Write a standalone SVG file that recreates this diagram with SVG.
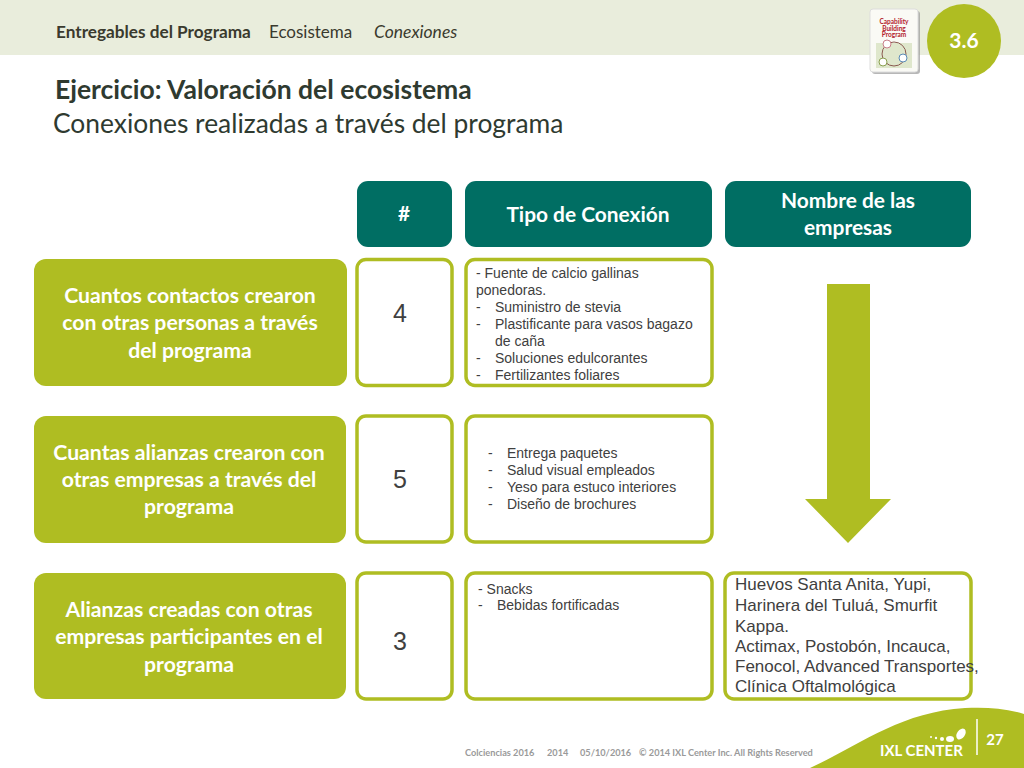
<svg xmlns="http://www.w3.org/2000/svg" width="1024" height="768" viewBox="0 0 1024 768">
<style>
.o{font-family:"Lato","Open Sans",sans-serif}
.l{font-family:"Liberation Sans",Arial,sans-serif;fill:#404040}
.hd{font-size:20.900px;font-weight:700;fill:#fff;text-anchor:middle}
.g{font-size:21.200px;font-weight:700;fill:#fff;text-anchor:middle}
.s{font-size:14px}
.n{font-size:25px;text-anchor:middle}
.box{fill:#fff;stroke:#afbd22;stroke-width:3.5}
.lime{fill:#afbd22}
.teal{fill:#006e63}
.f{font-size:9.200px;font-weight:700;fill:#9a9a9a}
</style>
<rect width="1024" height="768" fill="#fff"/>
<g id="header">
<rect width="1024" height="55" fill="#e9eddc"/>
<text class="o" x="56" y="38" font-size="17.200" font-weight="700" fill="#3a3a2e">Entregables del Programa</text>
<text class="o" x="269" y="38" font-size="17" fill="#3a3a2e">Ecosistema</text>
<text class="o" x="374" y="38" font-size="17.500" font-style="italic" fill="#3a3a2e">Conexiones</text>
</g>
<g id="badge">
<rect x="872" y="11" width="48" height="63" rx="3" fill="#999" opacity=".7"/>
<rect x="870" y="9" width="48" height="63" rx="3" fill="#fafaf5" stroke="#ddd"/>
<rect x="876" y="43" width="36" height="25" fill="#dfe7cc"/>
<text class="o" x="894" y="24" font-size="6.500" font-weight="700" fill="#b3202c" text-anchor="middle">Capability</text>
<text class="o" x="894" y="30.500" font-size="6.500" font-weight="700" fill="#b3202c" text-anchor="middle">Building</text>
<text class="o" x="894" y="37" font-size="6.500" font-weight="700" fill="#b3202c" text-anchor="middle">Program</text>
<circle cx="894" cy="54" r="12" fill="none" stroke="#8a5a50" stroke-width="1"/>
<circle cx="887" cy="44" r="4" fill="#fff" stroke="#c9808a"/>
<circle cx="903" cy="58" r="4" fill="#fff" stroke="#5b8bb5"/>
<circle cx="883" cy="62" r="4" fill="#fff" stroke="#8aa050"/>
<circle cx="964" cy="41" r="37" class="lime"/>
<text class="o" x="964" y="48" font-size="21" font-weight="700" fill="#fff" text-anchor="middle">3.6</text>
</g>
<g id="title">
<text class="o" x="55" y="99" font-size="26.500" font-weight="700" fill="#2f3a30">Ejercicio: Valoración del ecosistema</text>
<text class="o" x="53" y="133" font-size="26.400" fill="#2f3a30">Conexiones realizadas a través del programa</text>
</g>
<g id="col-num"><rect x="357" y="181" width="95" height="66" rx="11" class="teal"/><text class="o hd" x="404" y="221">#</text></g>
<g id="col-tipo"><rect x="465" y="181" width="247" height="66" rx="11" class="teal"/><text class="o hd" x="588" y="222">Tipo de Conexión</text></g>
<g id="col-nombre"><rect x="725" y="181" width="246" height="66" rx="11" class="teal"/><text class="o hd" x="848" y="208">Nombre de las</text><text class="o hd" x="848" y="235">empresas</text></g>
<g id="q1"><rect x="34" y="259" width="313" height="127" rx="12" class="lime"/>
<text class="o g" x="190" y="303">Cuantos contactos crearon</text><text class="o g" x="190" y="330">con otras personas a través</text><text class="o g" x="190" y="358">del programa</text></g>
<g id="q2"><rect x="34" y="416" width="312" height="127" rx="12" class="lime"/>
<text class="o g" x="189" y="460">Cuantas alianzas crearon con</text><text class="o g" x="189" y="487">otras empresas a través del</text><text class="o g" x="189" y="514">programa</text></g>
<g id="q3"><rect x="34" y="573" width="312" height="126" rx="12" class="lime"/>
<text class="o g" x="189" y="617">Alianzas creadas con otras</text><text class="o g" x="189" y="644">empresas participantes en el</text><text class="o g" x="189" y="672">programa</text></g>
<g id="n1"><rect x="357" y="259.500" width="95" height="126" rx="9" class="box"/><text class="l n" x="400" y="322">4</text></g>
<g id="n2"><rect x="357" y="416" width="95" height="126" rx="9" class="box"/><text class="l n" x="400" y="488">5</text></g>
<g id="n3"><rect x="357" y="573" width="95" height="126" rx="9" class="box"/><text class="l n" x="400" y="650">3</text></g>
<g id="t1"><rect x="466" y="259.500" width="246" height="126" rx="9" class="box"/>
<text class="l s" x="476" y="278">- Fuente de calcio gallinas</text>
<text class="l s" x="476" y="295">ponedoras.</text>
<text class="l s" x="476" y="312">-</text><text class="l s" x="495" y="312">Suministro de stevia</text>
<text class="l s" x="476" y="329">-</text><text class="l s" x="495" y="329">Plastificante para vasos bagazo</text>
<text class="l s" x="495" y="346">de caña</text>
<text class="l s" x="476" y="363">-</text><text class="l s" x="495" y="363">Soluciones edulcorantes</text>
<text class="l s" x="476" y="380">-</text><text class="l s" x="495" y="380">Fertilizantes foliares</text></g>
<g id="t2"><rect x="466" y="416" width="246" height="126" rx="9" class="box"/>
<text class="l s" x="488" y="458">-</text><text class="l s" x="507" y="458">Entrega paquetes</text>
<text class="l s" x="488" y="475">-</text><text class="l s" x="507" y="475">Salud visual empleados</text>
<text class="l s" x="488" y="492">-</text><text class="l s" x="507" y="492">Yeso para estuco interiores</text>
<text class="l s" x="488" y="509">-</text><text class="l s" x="507" y="509">Diseño de brochures</text></g>
<g id="t3"><rect x="466" y="573" width="246" height="126" rx="9" class="box"/>
<text class="l s" x="478" y="594">- Snacks</text>
<text class="l s" x="478" y="610">-</text><text class="l s" x="497" y="610">Bebidas fortificadas</text></g>
<g id="names"><rect x="725" y="573" width="246" height="126" rx="9" class="box"/>
<g class="l" font-size="17">
<text x="735" y="590">Huevos Santa Anita, Yupi,</text>
<text x="735" y="611">Harinera del Tuluá, Smurfit</text>
<text x="735" y="632">Kappa.</text>
<text x="735" y="652">Actimax, Postobón, Incauca,</text>
<text x="735" y="672">Fenocol, Advanced Transportes,</text>
<text x="735" y="692">Clínica Oftalmológica</text></g></g>
<g id="connectors"><path class="lime" d="M827 284H870V499H891L848 543L805 499H827Z"/></g>
<g id="footer">
<text class="o f" x="465" y="756">Colciencias 2016</text>
<text class="o f" x="547" y="756">2014</text>
<text class="o f" x="580" y="756">05/10/2016</text>
<text class="o f" x="639" y="756">© 2014 IXL Center Inc. All Rights Reserved</text>
<path class="lime" d="M810 768C860 745 900 712 965 708C985 707 1005 708 1024 714V768Z"/>
<path d="M977 719V755" stroke="#fff" stroke-width="1.500"/>
<text class="o" x="880" y="756" font-size="15" font-weight="700" fill="#fff">IXL CENTER</text>
<ellipse cx="961" cy="734" rx="4" ry="6" fill="#fff" transform="rotate(35 961 734)"/>
<ellipse cx="950" cy="739" rx="4" ry="3" fill="#fff"/>
<circle cx="942" cy="739" r="2" fill="#fff"/><circle cx="936" cy="738" r="1.200" fill="#fff"/><circle cx="931" cy="737" r="1" fill="#fff"/>
<text class="o" x="995" y="745" font-size="15" font-weight="700" fill="#fff" text-anchor="middle">27</text>
</g>
</svg>
